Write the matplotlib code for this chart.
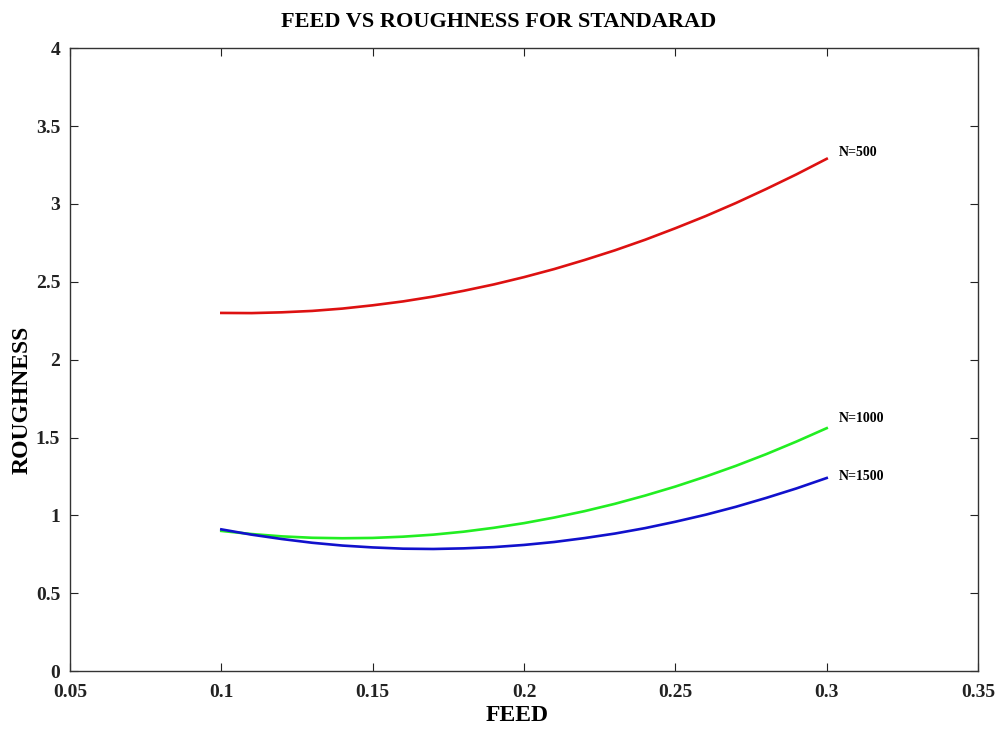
import numpy as np
import matplotlib
matplotlib.use("Agg")
import matplotlib.pyplot as plt

# feed values (x)
feed = [0.10, 0.11, 0.12, 0.13, 0.14, 0.15, 0.16, 0.17, 0.18, 0.19, 0.20,
        0.21, 0.22, 0.23, 0.24, 0.25, 0.26, 0.27, 0.28, 0.29, 0.30]

# roughness for each spindle speed
rough_500 = [2.300, 2.299, 2.304, 2.313, 2.328, 2.349, 2.374, 2.405, 2.442, 2.483, 2.530,
             2.582, 2.640, 2.702, 2.770, 2.844, 2.922, 3.006, 3.096, 3.190, 3.290]
rough_1000 = [0.900, 0.880, 0.865, 0.856, 0.853, 0.855, 0.863, 0.876, 0.895, 0.920, 0.950,
              0.986, 1.027, 1.074, 1.127, 1.185, 1.249, 1.318, 1.393, 1.474, 1.560]
rough_1500 = [0.910, 0.876, 0.848, 0.824, 0.806, 0.794, 0.786, 0.784, 0.788, 0.796, 0.810,
              0.829, 0.854, 0.883, 0.918, 0.959, 1.004, 1.055, 1.112, 1.173, 1.240]

labels = ["N=500", "N=1000", "N=1500"]
label_y = [3.33, 1.62, 1.25]

xticks = [0.05, 0.1, 0.15, 0.2, 0.25, 0.3, 0.35]
xticklabels = ["0.05", "0.1", "0.15", "0.2", "0.25", "0.3", "0.35"]
yticks = [0, 0.5, 1, 1.5, 2, 2.5, 3, 3.5, 4]
yticklabels = ["0", "0.5", "1", "1.5", "2", "2.5", "3", "3.5", "4"]

plt.rcParams["font.family"] = ["Liberation Serif", "DejaVu Serif"]
plt.rcParams["font.weight"] = "bold"

fig = plt.figure(figsize=(9.97, 7.31), dpi=100)
ax = fig.add_axes([0.0702, 0.082, 0.9108, 0.852])

ax.plot(feed, rough_500, color="#dd1111", lw=1.9)
ax.plot(feed, rough_1000, color="#22ee22", lw=1.9)
ax.plot(feed, rough_1500, color="#1111cc", lw=1.9)

for lab, yy in zip(labels, label_y):
    ax.text(0.304, yy, lab, fontsize=10, fontweight="bold", va="center", ha="left")

ax.set_xlim(0.05, 0.35)
ax.set_ylim(0, 4)
ax.set_xticks(xticks)
ax.set_xticklabels(xticklabels)
ax.set_yticks(yticks)
ax.set_yticklabels(yticklabels)
ax.tick_params(direction="in", length=6, width=0.8, top=True, right=True,
               labelsize=14, colors="#222222")
ax.tick_params(axis="x", pad=9)
ax.tick_params(axis="y", pad=7)
for sp in ax.spines.values():
    sp.set_color("#333333")
    sp.set_linewidth(1.0)

ax.set_xlabel("FEED", fontsize=17, fontweight="bold")
ax.xaxis.set_label_coords(0.492, -0.054)
ax.set_ylabel("ROUGHNESS", fontsize=17, fontweight="bold")
ax.yaxis.set_label_coords(-0.041, 0.435)
fig.suptitle("FEED VS ROUGHNESS FOR STANDARAD", fontsize=16, fontweight="bold",
             x=0.5, y=0.983)

fig.savefig("out.png", dpi=100)
plt.close(fig)
